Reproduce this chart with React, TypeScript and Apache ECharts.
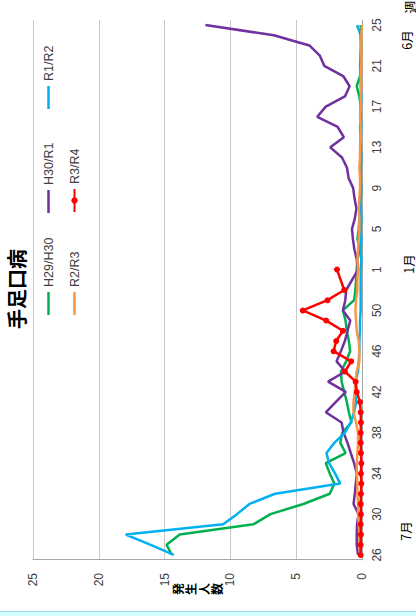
import React, { useEffect, useRef } from "react";
import * as echarts from "echarts";

const weeks = [
  "26", "27", "28", "29", "30", "31", "32", "33", "34", "35", "36", "37", "38", "39",
  "40", "41", "42", "43", "44", "45", "46", "47", "48", "49", "50", "51", "52", "53",
  "1", "2", "3", "4", "5", "6", "7", "8", "9", "10", "11", "12", "13", "14", "15",
  "16", "17", "18", "19", "20", "21", "22", "23", "24", "25",
];

const seriesNames = ["H29/H30", "H30/R1", "R1/R2", "R2/R3", "R3/R4"];
const seriesColors = ["#00B050", "#7030A0", "#00B0F0", "#F79646", "#FF0000"];

const h29h30 = [
  14.45, 14.85, 13.85, 8.25, 6.95, 4.45, 2.45, 2.1, 2.45, 2.75, 1.25, 1.65, 1.5, 0.8,
  1.0, 1.15, 1.35, 1.55, 1.6, 1.2, 0.9, 1.0, 1.15, 1.25, 1.45, 0.6, 0.5, null,
  0.4, 0.35, 0.15, 0.35, 0.25, 0.2, 0.15, 0.15, 0.1, 0.1, 0.15, 0.1, 0.1, 0.1, 0.15,
  0.1, 0.1, 0.2, 0.4, 0.15, 0.1, 0.1, 0.05, 0.1, 0.1,
];
const h30r1 = [
  0.3, 0.4, 0.4, 0.38, 0.26, 0.64, 0.55, 0.47, 0.4, 0.6, 0.85, 1.1, 1.4, 1.55,
  2.75, 2.0, 1.23, 2.58, 1.27, 1.93, 1.6, 1.3, 1.1, 0.89, 1.45, 1.27, 1.2, null,
  0.3, 0.4, 0.58, 0.69, 0.76, 0.55, 0.42, 0.57, 0.67, 1.02, 1.14, 1.52, 2.41, 1.38, 1.85,
  3.4, 2.75, 1.3, 0.94, 1.43, 2.87, 3.2, 4.0, 6.7, 11.9,
];
const r1r2 = [
  14.3, 16.1, 17.95, 10.55, 9.5, 8.55, 6.6, 1.65, 2.05, 2.5, 2.7, 2.1, 1.3, 0.85,
  0.6, 0.45, 0.5, 0.5, 0.3, 0.25, 0.2, 0.2, 0.15, 0.15, 0.1, 0.1, 0.1, null,
  0.1, 0.05, 0.1, 0.05, 0.1, 0.05, 0.1, 0.1, 0.05, 0.1, 0.1, 0.05, 0.1, 0.1, 0.05,
  0.1, 0.1, 0.05, 0.1, 0.1, 0.15, 0.1, 0.1, 0.1, 0.38,
];
const r2r3 = [
  0.15, 0.2, 0.2, 0.25, 0.3, 0.3, 0.35, 0.35, 0.4, 0.4, 0.35, 0.3, 0.3, 0.45,
  0.65, 0.65, 0.55, 0.5, 0.4, 0.2, 0.2, 0.25, 0.4, 0.45, 0.5, 0.45, 0.35, 0.35,
  0.3, 0.35, 0.3, 0.25, 0.2, 0.2, 0.25, 0.2, 0.15, 0.15, 0.2, 0.15, 0.15, 0.1, 0.1,
  0.15, 0.1, 0.1, 0.05, 0.1, 0.05, 0.05, 0.05, 0.05, 0.0,
];
const r3r4 = [
  0.1, 0.1, 0.08, 0.1, 0.08, 0.1, 0.08, 0.05, 0.08, 0.05, 0.08, 0.1, 0.1, 0.08,
  0.1, 0.15, 0.4, 0.48, 1.3, 0.82, 2.16, 1.96, 1.45, 2.72, 4.5, 2.62, 1.35, null,
  1.9, null, null, null, null, null, null, null, null, null, null, null, null, null, null,
  null, null, null, null, null, null, null, null, null, null,
];

const allSeries = [h29h30, h30r1, r1r2, r2r3, r3r4];
const monthLabels = ["7月", "1月", "6月"];
const weekUnit = "週";
const yAxisName = "発生人数";
const chartTitle = "手足口病";
const valueTicks = { min: 0, max: 25, interval: 5 };

const FONT = "'Liberation Sans', Arial, sans-serif";
const CJK = "'Noto Sans CJK JP', sans-serif";

export default function App() {
  const ref = useRef<HTMLDivElement>(null);

  useEffect(() => {
    document.body.style.margin = "0";
    if (!ref.current) return;
    const chart = echarts.init(ref.current, undefined, { renderer: "svg" });

    const legendPos = [
      [301, 42],
      [403, 42],
      [507, 42],
      [301, 68],
      [403, 68],
    ];

    const nameChars = yAxisName.split("");
    const nameStep = 13.3;
    const nameTop = 197 - ((nameChars.length - 1) * nameStep) / 2;

    chart.setOption({
      animation: false,
      backgroundColor: "#ffffff",
      grid: { left: 56, right: 20, top: 33, bottom: 54 },
      legend: seriesNames.map((n, k) => ({
        data: [n],
        left: legendPos[k][0],
        top: legendPos[k][1],
        padding: 0,
        itemWidth: 23,
        itemHeight: k === 4 ? 8 : 2.5,
        icon: k === 4 ? undefined : "rect",
        itemGap: 0,
        selectedMode: false,
        textStyle: { fontSize: 12.5, color: "#404040", fontFamily: FONT },
      })),
      xAxis: {
        type: "category",
        data: weeks,
        boundaryGap: true,
        axisLine: { lineStyle: { color: "#A6A6A6", width: 1 } },
        axisTick: { show: false },
        axisLabel: { interval: 3, color: "#404040", fontSize: 12, fontFamily: FONT, margin: 9 },
      },
      yAxis: {
        type: "value",
        min: valueTicks.min,
        max: valueTicks.max,
        interval: valueTicks.interval,
        axisLine: { show: true, lineStyle: { color: "#A6A6A6", width: 1 } },
        axisTick: { show: false },
        splitLine: { lineStyle: { color: "#C8C8C8", width: 1 } },
        axisLabel: { color: "#404040", fontSize: 12, fontFamily: FONT, margin: 13 },
      },
      series: allSeries.map((d, k) => ({
        name: seriesNames[k],
        type: "line",
        data: d,
        connectNulls: true,
        symbol: k === 4 ? "circle" : "none",
        symbolSize: 6,
        showAllSymbol: true,
        color: seriesColors[k],
        itemStyle: { color: seriesColors[k] },
        lineStyle: { color: seriesColors[k], width: 2.5 },
        z: 2 + k,
      })),
      graphic: [
        {
          type: "text",
          x: 327,
          y: 16,
          style: {
            text: chartTitle,
            font: `bold 20px ${CJK}`,
            fill: "#000",
            textAlign: "center",
            textVerticalAlign: "middle",
          },
        },
        ...nameChars.map((ch, i) => ({
          type: "text",
          x: 27,
          y: nameTop + i * nameStep,
          style: {
            text: ch,
            font: `bold 12px ${CJK}`,
            fill: "#000",
            textAlign: "center",
            textVerticalAlign: "middle",
          },
        })),
        {
          type: "text",
          x: 85,
          y: 405,
          style: { text: monthLabels[0], font: `12.5px ${CJK}`, fill: "#000", textAlign: "center", textVerticalAlign: "middle" },
        },
        {
          type: "text",
          x: 352,
          y: 408,
          style: { text: monthLabels[1], font: `12.5px ${CJK}`, fill: "#000", textAlign: "center", textVerticalAlign: "middle" },
        },
        {
          type: "text",
          x: 576,
          y: 406,
          style: { text: monthLabels[2], font: `12.5px ${CJK}`, fill: "#000", textAlign: "center", textVerticalAlign: "middle" },
        },
        {
          type: "text",
          x: 609,
          y: 409,
          style: { text: weekUnit, font: `13px ${CJK}`, fill: "#000", textAlign: "center", textVerticalAlign: "middle" },
        },
      ],
    });

    return () => chart.dispose();
  }, []);

  return (
    <div
      style={{
        position: "fixed",
        left: 0,
        top: 0,
        width: 416,
        height: 616,
        overflow: "hidden",
        background: "#ffffff",
      }}
    >
      <div
        ref={ref}
        style={{
          position: "absolute",
          left: 0,
          top: 0,
          width: 616,
          height: 416,
          transformOrigin: "0 0",
          transform: "translate(0px, 616px) rotate(-90deg)",
        }}
      />
      <div
        style={{
          position: "absolute",
          left: 0,
          top: 611,
          width: 416,
          height: 5,
          background: "#D4FFFF",
          borderTop: "1px solid #9FE0E8",
          boxSizing: "border-box",
        }}
      />
    </div>
  );
}
